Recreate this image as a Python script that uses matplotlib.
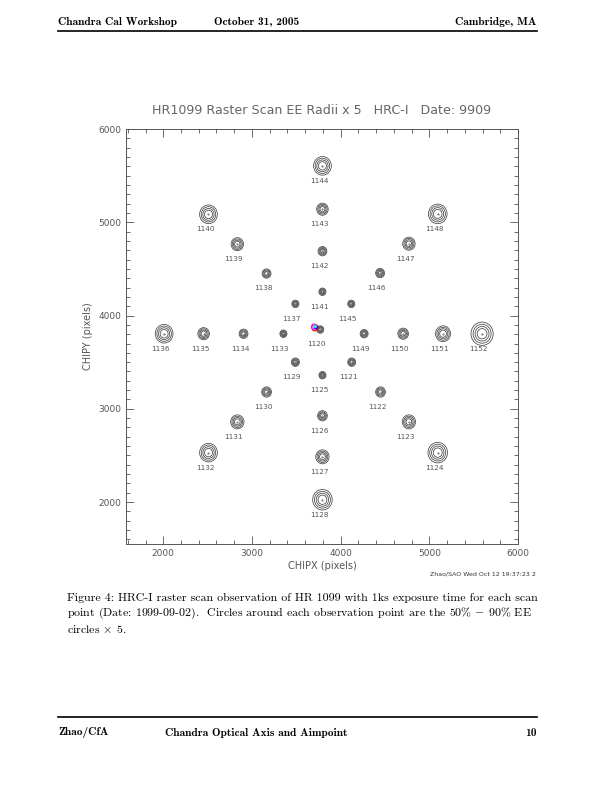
import numpy as np
import matplotlib.pyplot as plt
from matplotlib.patches import Circle
from matplotlib.lines import Line2D

plt.rcParams['mathtext.fontset'] = 'cm'

# raster scan points: obsid, chip position, EE radii (x5) in pixels
obsid = [1120, 1121, 1122, 1123, 1124, 1125, 1126, 1127, 1128,
         1129, 1130, 1131, 1132, 1133, 1134, 1135, 1136,
         1137, 1138, 1139, 1140, 1141, 1142, 1143, 1144,
         1145, 1146, 1147, 1148, 1149, 1150, 1151, 1152]
chipx = [3770, 4125, 4450, 4770, 5095, 3795, 3795, 3795, 3795,
         3490, 3165, 2835, 2510, 3355, 2905, 2455, 2010,
         3490, 3165, 2835, 2510, 3795, 3795, 3795, 3795,
         4120, 4445, 4770, 5095, 4265, 4705, 5155, 5595]
chipy = [3850, 3500, 3180, 2860, 2530, 3360, 2925, 2485, 2025,
         3500, 3180, 2860, 2530, 3805, 3805, 3805, 3805,
         4125, 4450, 4765, 5085, 4255, 4690, 5140, 5605,
         4125, 4455, 4770, 5090, 3805, 3805, 3805, 3805]
r90 = [40, 45, 55, 75, 110, 40, 55, 75, 110,
       45, 55, 75, 100, 40, 50, 65, 100,
       40, 50, 70, 100, 40, 50, 65, 100,
       40, 50, 70, 105, 45, 60, 85, 125]
r50 = [15, 18, 22, 32, 50, 15, 22, 32, 50,
       18, 22, 32, 45, 15, 20, 28, 45,
       15, 20, 30, 45, 15, 20, 28, 45,
       15, 20, 30, 48, 18, 25, 38, 55]

# aimpoint markers near 1120
aim_x = [3710, 3700, 3720, 3715]
aim_y = [3870, 3880, 3875, 3885]
aim_r = [35, 28, 18, 12]
aim_c = ['red', 'magenta', 'blue', 'cyan']

fig = plt.figure(figsize=(6.12, 7.92), dpi=100)
ax = fig.add_axes([0.2059, 0.3131, 0.6405, 0.524])
gray = '#555555'

for x, y, a, b, n in zip(chipx, chipy, r50, r90, obsid):
    for r in np.linspace(a, b, 4):
        ax.add_patch(Circle((x, y), r, fill=False, ec='#444444', lw=0.55))
    ax.plot(x, y, '.', color='#666666', ms=1)
    ax.text(x - 40, y - 160, str(n), fontsize=5.2, color=gray,
            ha='center', va='center')

for x, y, r, c in zip(aim_x, aim_y, aim_r, aim_c):
    ax.add_patch(Circle((x, y), r, fill=False, ec=c, lw=0.8))

ax.set_xlim(1580, 6000)
ax.set_ylim(1550, 6000)
ax.set_xticks([2000, 3000, 4000, 5000, 6000])
ax.set_yticks([2000, 3000, 4000, 5000, 6000])
ax.set_xticks(np.arange(1600, 6001, 200), minor=True)
ax.set_yticks(np.arange(1600, 6001, 100), minor=True)
ax.tick_params(which='both', direction='in', top=True, right=True,
               color=gray, labelcolor=gray, labelsize=6.5, width=0.6)
ax.tick_params(which='major', length=6)
ax.tick_params(which='minor', length=3)
for s in ax.spines.values():
    s.set_color(gray)
    s.set_linewidth(0.7)
ax.set_xlabel('CHIPX (pixels)', fontsize=7, color=gray, labelpad=2)
ax.set_ylabel('CHIPY (pixels)', fontsize=7, color=gray, labelpad=4)
ax.set_title('HR1099 Raster Scan EE Radii x 5   HRC-I   Date: 9909',
             fontsize=9.1, color='#666666', pad=11)
fig.text(0.702, 0.273, 'Zhao/SAO Wed Oct 12 19:37:23 2', fontsize=4.5, color='#333333')

# page header / footer
hf = 8.2
fig.text(0.095, 0.972, 'Chandra Cal Workshop', family='cmb10', fontsize=hf, va='center')
fig.text(0.42, 0.972, 'October 31, 2005', family='cmb10', fontsize=hf, va='center', ha='center')
fig.text(0.877, 0.972, 'Cambridge, MA', family='cmb10', fontsize=hf, va='center', ha='right')
fig.add_artist(Line2D([0.095, 0.877], [0.961, 0.961], color='black', lw=1.2))
fig.add_artist(Line2D([0.095, 0.877], [0.095, 0.095], color='black', lw=1.2))
fig.text(0.095, 0.075, 'Zhao/CfA', family='cmb10', fontsize=hf, va='center')
fig.text(0.27, 0.075, 'Chandra Optical Axis and Aimpoint', family='cmb10', fontsize=hf, va='center')
fig.text(0.877, 0.075, '10', family='cmb10', fontsize=hf, va='center', ha='right')

cap = ['Figure 4: HRC-I raster scan observation of HR 1099 with 1ks exposure time for each scan',
       'point (Date: 1999-09-02).  Circles around each observation point are the 50% $-$ 90% EE',
       r'circles $\times$ 5.']
for i, line in enumerate(cap):
    fig.text(0.109, 0.245 - i * 0.0195, line, family='cmr10', fontsize=8.6, va='center')

fig.savefig('out.png', dpi=100)
